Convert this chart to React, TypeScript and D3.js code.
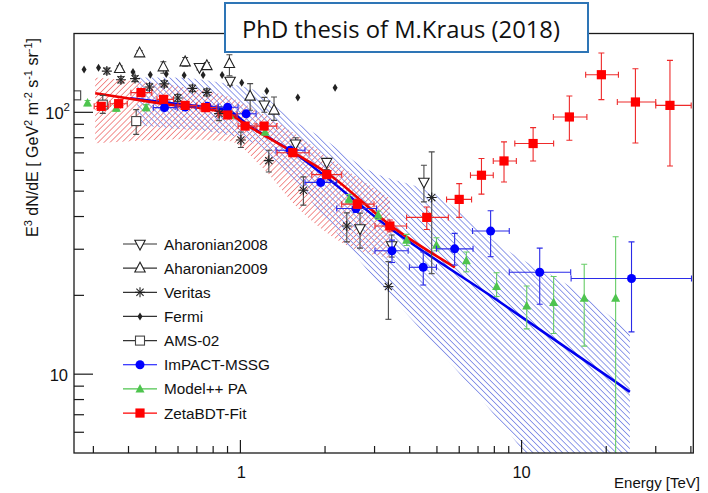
import React from 'react';
import * as d3 from 'd3';

// ---------- axes domains ----------
const xDomain: [number, number] = [0.256, 40.8];
const yDomain: [number, number] = [5.0, 200];

// ---------- data (E [TeV], E^3 dN/dE ...) ----------
// [E, flux, fluxLo, fluxHi]
const aharonian2008 = [
  [0.715, 148.5, 145, 152],
  [0.919, 131.6, 127, 136],
  [1.217, 106.8, 100, 114],
  [1.571, 75.8, 72, 80],
  [2.028, 64.5, 60.5, 66.5],
  [2.663, 36.0, 30.3, 41.2],
  [3.452, 31.0, 28, 34],
  [4.494, 54.2, 45.5, 62.8],
];
const aharonian2009 = [
  [0.372, 146.8, 143, 150.5],
  [0.438, 168.4, 165, 172],
  [0.532, 148.9, 141, 156],
  [0.636, 155.6, 150, 162],
  [0.760, 150.5, 146, 155],
  [0.914, 153.3, 138, 166],
  [1.083, 115.1, 101.8, 128.7],
  [1.317, 101.8, 93.2, 114.4],
];
const veritas = [
  [0.335, 143.7, 140, 147.5],
  [0.376, 133.2, 129.5, 137],
  [0.422, 134.5, 131, 138],
  [0.475, 124.9, 121.5, 128.5],
  [0.536, 128.4, 125, 132],
  [0.599, 113.4, 110, 117],
  [0.675, 123.4, 120, 127],
  [0.760, 119.2, 115.5, 123],
  [0.840, 98.9, 93, 105],
  [1.004, 78.4, 73.4, 84.1],
  [1.262, 65.4, 59.2, 71.6],
  [1.675, 50.4, 44.2, 56.7],
  [2.390, 36.8, 32.0, 41.3],
  [3.36, 21.6, 16.2, 26.9],
  [4.79, 47.3, 24.2, 70.6],
];
// [E, flux]
const fermi = [
  [0.278, 145.6], [0.313, 148.1], [0.415, 142.5], [0.478, 139.3],
  [0.545, 140.2], [0.631, 138.4], [0.737, 139.0], [0.861, 139.0],
  [1.011, 129.6], [1.241, 120.6], [1.600, 113.8], [2.172, 124.2],
];
const ams02 = [
  [0.2606, 116.1, 112, 120],
  [0.324, 107.0, 99.1, 116.1],
  [0.426, 92.6, 82.4, 102.4],
];
// [E, flux, eLo, eHi, fluxLo, fluxHi]
const impactMSSG = [
  [0.537, 104.2, 0.490, 0.596, 102, 106.5],
  [0.636, 104.8, 0.586, 0.696, 102.5, 107],
  [0.762, 105.4, 0.696, 0.833, 103, 108],
  [0.901, 104.5, 0.833, 0.981, 102, 107],
  [1.048, 98.7, 0.973, 1.137, 96.5, 101],
  [1.502, 71.6, 1.339, 1.697, 69.5, 73.5],
  [1.930, 54.0, 1.697, 2.2, 52.5, 55.5],
  [2.576, 42.9, 2.2, 3.05, 41.5, 44.5],
  [3.46, 29.6, 3.01, 3.95, 26.7, 32.5],
  [4.47, 25.6, 3.99, 4.98, 21.9, 29.3],
  [5.78, 30.1, 4.98, 6.72, 26.1, 34.5],
  [7.76, 35.2, 6.69, 9.04, 28.1, 42.1],
  [11.6, 24.5, 9.04, 14.95, 18.5, 30.3],
  [24.6, 23.2, 15.0, 40.2, 14.5, 32.0],
];
// [E, flux, fluxLo, fluxHi]
const modelPA = [
  [0.286, 108.5, 106, 111],
  [0.362, 103.6, 101, 106],
  [0.462, 104.2, 101.5, 107],
  [0.919, 97.4, 95, 100],
  [1.224, 84.1, 82, 86.5],
  [2.433, 46.6, 45, 48.5],
  [3.09, 40.5, 39, 42],
  [3.90, 32.5, 31, 34.2],
  [4.98, 31.1, 29.6, 33.2],
  [6.36, 27.1, 24.6, 29.3],
  [8.15, 21.6, 19.8, 24.4],
  [10.43, 18.2, 14.9, 21.7],
  [13.0, 18.8, 14.3, 23.6],
  [16.7, 19.5, 12.8, 26.3],
  [21.6, 19.5, 4.8, 33.5],
];
// [E, flux, eLo, eHi, fluxLo, fluxHi]
const zetaBDT = [
  [0.320, 105.4, 0.302, 0.339, 102.5, 108.5],
  [0.369, 107.9, 0.344, 0.396, 105, 111],
  [0.443, 118.9, 0.408, 0.484, 115, 123],
  [0.533, 112.1, 0.505, 0.578, 109, 115.5],
  [0.636, 106.3, 0.600, 0.700, 103.5, 109.5],
  [0.753, 104.2, 0.719, 0.824, 101.5, 107],
  [0.902, 97.7, 0.833, 0.973, 95, 100.5],
  [1.039, 88.6, 0.981, 1.128, 86, 91.5],
  [1.214, 88.6, 1.144, 1.347, 86, 91.5],
  [1.536, 70.1, 1.35, 1.755, 68, 72.5],
  [2.028, 57.8, 1.794, 2.292, 56, 60],
  [2.604, 44.6, 2.292, 2.987, 43, 46.5],
  [3.40, 36.8, 3.01, 3.90, 35, 38.8],
  [4.60, 39.7, 3.90, 5.49, 35.7, 43.5],
  [6.00, 46.5, 5.41, 6.64, 39.7, 53.4],
  [7.20, 57.5, 6.58, 7.93, 48.7, 66.6],
  [8.66, 65.2, 7.93, 9.58, 54.2, 77.1],
  [10.99, 76.0, 9.46, 13.0, 65.2, 87.4],
  [14.79, 96.0, 12.97, 17.07, 78.2, 115.4],
  [19.22, 139.2, 16.9, 22.1, 111.8, 168.4],
  [25.4, 109.5, 21.9, 30.0, 76.4, 146.7],
  [33.7, 106.3, 30.0, 40.1, 62.4, 157.9],
];

// fit curves
const zetaFitE = [0.3045, 0.5185, 0.897, 1.056, 1.539, 2.084, 3.404, 5.79];
const zetaFitV = [118.2, 108.2, 99.1, 89.2, 70.4, 57.5, 37.1, 25.6];
const impactFitE = [0.4055, 0.6105, 0.897, 1.083, 1.502, 3.404, 8.17, 21.1, 24.27];
const impactFitV = [113.1, 107.3, 101.8, 88.4, 71.6, 36.1, 19.2, 9.51, 8.56];

// uncertainty bands
const zetaBandE = [0.3045, 0.4055, 0.6105, 0.919, 1.175, 1.63, 2.39, 3.404];
const zetaBandHi = [135.9, 132.4, 125.6, 114.1, 100, 80.3, 60.1, 47.0];
const zetaBandLo = [76.2, 77.5, 78.9, 77.5, 62.8, 42.3, 31.1, 27.7];
const impactBandE = [0.4295, 0.5626, 0.847, 1.175, 1.384, 2.084, 2.663, 5.125, 8.374, 9.86, 13.68, 24.27];
const impactBandHi = [135.9, 135.9, 130.1, 119.2, 101.8, 76.2, 62.8, 47.4, 31.1, 27.7, 22.9, 14.5];
const impactBandLo = [89.2, 86.9, 83.2, 73.6, 62.8, 37.4, 27.0, 12.27, 6.58, 5.28, 3.40, 1.57];

const legendLabels = ['Aharonian2008', 'Aharonian2009', 'Veritas', 'Fermi', 'AMS-02', 'ImPACT-MSSG', 'Model++ PA', 'ZetaBDT-Fit'];
const legendMarkers = ['openTriDown', 'openTriUp', 'star', 'diamond', 'openSquare', 'circle', 'triangle', 'square'];

const xMajor = [1, 10];
const yMajor = [10, 100];

const titleText = 'PhD thesis of M.Kraus (2018)';
const xTitle = 'Energy [TeV]';

const FONT = "'Liberation Sans', Arial, Helvetica, sans-serif";

const COL = {
  red: '#ff0000', redBar: '#ee2a2a',
  blue: '#0000ff', blueBar: '#2b2be8',
  green: '#4ec44e', greenBar: '#66cc66',
  dark: '#222222', darkBar: '#4a4a4a',
};

const markerColor: Record<string, string> = {
  openTriDown: COL.dark, openTriUp: COL.dark, star: COL.dark, diamond: COL.dark,
  openSquare: '#444', circle: COL.blue, triangle: COL.green, square: COL.red,
};
const legendLineColor: Record<string, string> = {
  openTriDown: '#333', openTriUp: '#333', star: '#333', diamond: '#333',
  openSquare: '#333', circle: COL.blue, triangle: COL.green, square: COL.red,
};

function Marker({ kind, cx, cy }: { kind: string; cx: number; cy: number }) {
  const c = markerColor[kind];
  switch (kind) {
    case 'square':
      return <rect x={cx - 4.6} y={cy - 4.6} width={9.2} height={9.2} fill={c} />;
    case 'circle':
      return <circle cx={cx} cy={cy} r={4.5} fill={c} />;
    case 'triangle':
      return <polygon points={`${cx},${cy - 5} ${cx - 4.5},${cy + 3.5} ${cx + 4.5},${cy + 3.5}`} fill={c} />;
    case 'openTriUp':
      return <polygon points={`${cx},${cy - 6} ${cx - 5.2},${cy + 3.8} ${cx + 5.2},${cy + 3.8}`} fill="white" stroke={c} strokeWidth={1.1} />;
    case 'openTriDown':
      return <polygon points={`${cx},${cy + 6} ${cx - 5.2},${cy - 3.8} ${cx + 5.2},${cy - 3.8}`} fill="white" stroke={c} strokeWidth={1.1} />;
    case 'diamond':
      return <polygon points={`${cx},${cy - 4} ${cx + 2.5},${cy} ${cx},${cy + 4} ${cx - 2.5},${cy}`} fill={c} />;
    case 'openSquare':
      return <rect x={cx - 4.5} y={cy - 4.5} width={9} height={9} fill="white" stroke={c} strokeWidth={1.1} />;
    case 'star': {
      const r = 5, d = r * 0.72;
      return (
        <g stroke={c} strokeWidth={1.1}>
          <line x1={cx - r} y1={cy} x2={cx + r} y2={cy} />
          <line x1={cx} y1={cy - r} x2={cx} y2={cy + r} />
          <line x1={cx - d} y1={cy - d} x2={cx + d} y2={cy + d} />
          <line x1={cx - d} y1={cy + d} x2={cx + d} y2={cy - d} />
        </g>
      );
    }
    default:
      return null;
  }
}

function ErrorBars({ px, py, xl, xh, yl, yh, color }: any) {
  const cap = 3;
  return (
    <g stroke={color} strokeWidth={1.1}>
      {xl !== undefined && (
        <>
          <line x1={xl} y1={py} x2={xh} y2={py} />
          <line x1={xl} y1={py - cap} x2={xl} y2={py + cap} />
          <line x1={xh} y1={py - cap} x2={xh} y2={py + cap} />
        </>
      )}
      {yl !== undefined && (
        <>
          <line x1={px} y1={yh} x2={px} y2={yl} />
          <line x1={px - cap} y1={yh} x2={px + cap} y2={yh} />
          <line x1={px - cap} y1={yl} x2={px + cap} y2={yl} />
        </>
      )}
    </g>
  );
}

export default function App() {
  const X0 = 74, X1 = 693.3, Y0 = 33.5, Y1 = 453;
  const x = d3.scaleLog().domain(xDomain).range([X0, X1]);
  const y = d3.scaleLog().domain(yDomain).range([Y1, Y0]);

  const lineGen = (es: number[], vs: number[]) =>
    d3.line<number>().x((_, i) => x(es[i])).y((_, i) => y(vs[i])).curve(d3.curveMonotoneX)(es) || '';
  const areaGen = (es: number[], lo: number[], hi: number[]) =>
    d3.area<number>().x((_, i) => x(es[i])).y0((_, i) => y(lo[i])).y1((_, i) => y(hi[i])).curve(d3.curveMonotoneX)(es) || '';

  // minor ticks
  const xTicks: number[] = [];
  [0.1, 1, 10].forEach((d) => { for (let k = 1; k <= 9; k++) { const v = d * k; if (v > xDomain[0] && v < xDomain[1]) xTicks.push(v); } });
  const yTicks: number[] = [];
  [1, 10, 100].forEach((d) => { for (let k = 1; k <= 9; k++) { const v = d * k; if (v > yDomain[0] && v < yDomain[1]) yTicks.push(v); } });

  const supSeg = (parts: [string, boolean][], big: number, small: number, shift: number) => {
    let up = false;
    return parts.map(([t, sup], i) => {
      let dy = 0;
      if (sup && !up) { dy = -shift; up = true; }
      else if (!sup && up) { dy = shift; up = false; }
      return <tspan key={i} dy={dy} fontSize={sup ? small : big}>{t}</tspan>;
    });
  };

  const yTitleParts: [string, boolean][] = [
    ['E', false], ['3', true], [' dN/dE [ GeV', false], ['2', true], [' m', false], ['-2', true],
    [' s', false], ['-1', true], [' sr', false], ['-1', true], [']', false],
  ];

  return (
    <div style={{ position: 'absolute', left: 0, top: 0 }}>
      <svg width={708} height={493} style={{ display: 'block', background: 'white' }} fontFamily={FONT}>
        <defs>
          <clipPath id="plotClip">
            <rect x={X0} y={Y0} width={X1 - X0} height={Y1 - Y0} />
          </clipPath>
          <pattern id="hatchRed" patternUnits="userSpaceOnUse" width={4.2} height={4.2} patternTransform="rotate(45)">
            <line x1={2.1} y1={0} x2={2.1} y2={4.2} stroke="#f07e7e" strokeWidth={0.85} />
          </pattern>
          <pattern id="hatchBlue" patternUnits="userSpaceOnUse" width={4.2} height={4.2} patternTransform="rotate(-45)">
            <line x1={2.1} y1={0} x2={2.1} y2={4.2} stroke="#7f8ce6" strokeWidth={0.85} />
          </pattern>
        </defs>
        <rect width={708} height={493} fill="white" />

        <g clipPath="url(#plotClip)">
          <path d={areaGen(zetaBandE, zetaBandLo, zetaBandHi)} fill="url(#hatchRed)" />
          <path d={areaGen(impactBandE, impactBandLo, impactBandHi)} fill="url(#hatchBlue)" />
          <path d={lineGen(impactFitE, impactFitV)} fill="none" stroke="#0000ee" strokeWidth={2.5} />
          <path d={lineGen(zetaFitE, zetaFitV)} fill="none" stroke="#ee0000" strokeWidth={2.6} />

          {aharonian2008.map((r, i) => (
            <g key={'a8' + i}>
              <ErrorBars px={x(r[0])} py={y(r[1])} yl={y(r[2])} yh={y(r[3])} color={COL.darkBar} />
              <Marker kind="openTriDown" cx={x(r[0])} cy={y(r[1])} />
            </g>
          ))}
          {aharonian2009.map((r, i) => (
            <g key={'a9' + i}>
              <ErrorBars px={x(r[0])} py={y(r[1])} yl={y(r[2])} yh={y(r[3])} color={COL.darkBar} />
              <Marker kind="openTriUp" cx={x(r[0])} cy={y(r[1])} />
            </g>
          ))}
          {veritas.map((r, i) => (
            <g key={'v' + i}>
              <ErrorBars px={x(r[0])} py={y(r[1])} yl={y(r[2])} yh={y(r[3])} color={COL.darkBar} />
              <Marker kind="star" cx={x(r[0])} cy={y(r[1])} />
            </g>
          ))}
          {fermi.map((r, i) => (
            <Marker key={'f' + i} kind="diamond" cx={x(r[0])} cy={y(r[1])} />
          ))}
          {ams02.map((r, i) => (
            <g key={'m' + i}>
              <ErrorBars px={x(r[0])} py={y(r[1])} yl={y(r[2])} yh={y(r[3])} color={COL.darkBar} />
              <Marker kind="openSquare" cx={x(r[0])} cy={y(r[1])} />
            </g>
          ))}
          {modelPA.map((r, i) => (
            <g key={'g' + i}>
              <ErrorBars px={x(r[0])} py={y(r[1])} yl={y(Math.max(r[2], 4))} yh={y(r[3])} color={COL.greenBar} />
              <Marker kind="triangle" cx={x(r[0])} cy={y(r[1])} />
            </g>
          ))}
          {impactMSSG.map((r, i) => (
            <g key={'b' + i}>
              <ErrorBars px={x(r[0])} py={y(r[1])} xl={x(r[2])} xh={x(r[3])} yl={y(r[4])} yh={y(r[5])} color={COL.blueBar} />
              <Marker kind="circle" cx={x(r[0])} cy={y(r[1])} />
            </g>
          ))}
          {zetaBDT.map((r, i) => (
            <g key={'z' + i}>
              <ErrorBars px={x(r[0])} py={y(r[1])} xl={x(r[2])} xh={x(r[3])} yl={y(r[4])} yh={y(r[5])} color={COL.redBar} />
              <Marker kind="square" cx={x(r[0])} cy={y(r[1])} />
            </g>
          ))}
        </g>

        <rect x={X0} y={Y0} width={X1 - X0} height={Y1 - Y0} fill="none" stroke="#1a1a1a" strokeWidth={1.3} />

        {yTicks.map((v) => {
          const major = yMajor.includes(v);
          return <line key={'yt' + v} x1={X0} x2={X0 + (major ? 19 : 10)} y1={y(v)} y2={y(v)} stroke="#1a1a1a" strokeWidth={1.2} />;
        })}
        {xTicks.map((v) => {
          const major = xMajor.includes(v);
          return <line key={'xt' + v} x1={x(v)} x2={x(v)} y1={Y1} y2={Y1 - (major ? 13 : 7)} stroke="#1a1a1a" strokeWidth={1.2} />;
        })}

        <text x={68} y={y(10) + 6.5} textAnchor="end" fontSize={16.5} fill="#111">10</text>
        <text x={70} y={y(100) + 7} textAnchor="end" fontSize={16.5} fill="#111">
          10<tspan dy={-8} fontSize={11.5}>2</tspan>
        </text>
        <text x={x(1) + 1} y={478} textAnchor="middle" fontSize={16.5} fill="#111">1</text>
        <text x={x(10)} y={478} textAnchor="middle" fontSize={16.5} fill="#111">10</text>

        <text transform="translate(38,38) rotate(-90)" textAnchor="end" fontSize={16} fill="#111">
          {supSeg(yTitleParts, 16, 11, 6)}
        </text>
        <text x={700} y={488} textAnchor="end" fontSize={15} fill="#111">{xTitle}</text>

        {legendLabels.map((lab, i) => {
          const cy = 244 + i * 24.15;
          const k = legendMarkers[i];
          return (
            <g key={'lg' + i}>
              <line x1={123} x2={157} y1={cy} y2={cy} stroke={legendLineColor[k]} strokeWidth={1.2} />
              <Marker kind={k} cx={140} cy={cy} />
              <text x={164} y={cy + 5.5} fontSize={15.3} fill="#111">{lab}</text>
            </g>
          );
        })}

        <rect x={225} y={3} width={363} height={49} fill="white" stroke="#2e75b6" strokeWidth={2} />
        <text x={242} y={37.5} fontSize={23} fontFamily="'Open Sans', Lato, sans-serif" fill="#111"
          textLength={318} lengthAdjust="spacingAndGlyphs">{titleText}</text>
      </svg>
    </div>
  );
}
